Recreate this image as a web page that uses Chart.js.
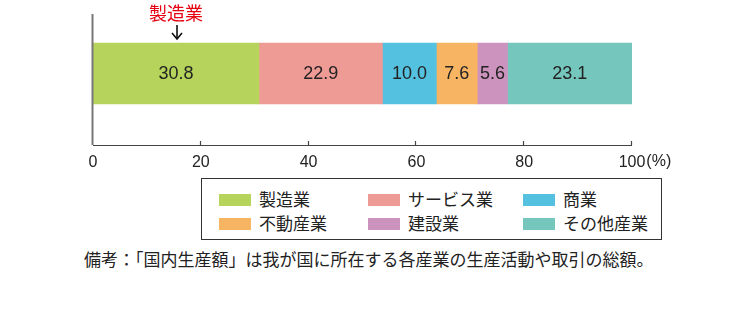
<!DOCTYPE html>
<html><head><meta charset="utf-8">
<script src="https://cdn.jsdelivr.net/npm/chart.js@4.4.1/dist/chart.umd.min.js"></script>
<style>
html,body{margin:0;padding:0;background:#fff;}
#wrap{position:relative;width:732px;height:324px;}
#c{position:absolute;left:0;top:0;}
#legend{position:absolute;left:201px;top:178px;width:459px;height:60px;border:1px solid #333;box-sizing:content-box;font-family:"Noto Sans CJK JP",sans-serif;font-size:17px;color:#222;}
.item{position:absolute;height:20px;line-height:20px;white-space:nowrap;}
.sw{position:absolute;left:0;top:4px;width:32px;height:12px;}
.lt{position:absolute;left:40px;top:-1px;}
#note{position:absolute;left:84px;top:247px;font-family:"Noto Sans CJK JP",sans-serif;font-size:17px;color:#222;white-space:nowrap;line-height:24px;}
</style></head>
<body><div id="wrap"><canvas id="c" width="732" height="175"></canvas><div id="legend"></div><div id="note"></div></div>
<script>
const categories = [''];
const seriesNames = ['製造業','サービス業','商業','不動産業','建設業','その他産業'];
const seriesValues = [30.8, 22.9, 10.0, 7.6, 5.6, 23.1];
const seriesColors = ['#B6D45C','#EF9B95','#55C1E1','#F7B564','#CD93BF','#75C6BC'];
const tickValues = [0,20,40,60,80,100];
const annotationText = '製造業';
const noteText = '備考：「国内生産額」は我が国に所在する各産業の生産活動や取引の総額。';

const datasets = seriesNames.map((n,i)=>({label:n,data:[seriesValues[i]],backgroundColor:seriesColors[i],borderWidth:0,barThickness:61}));

const custom = {
  id:'custom',
  afterDatasetsDraw(chart){
    const ctx = chart.ctx, xs = chart.scales.x, ca = chart.chartArea;
    ctx.save();
    // value labels
    ctx.font = '18px "Liberation Sans", Arial, sans-serif';
    ctx.fillStyle = '#222'; ctx.textAlign='center'; ctx.textBaseline='middle';
    chart.data.datasets.forEach((ds,i)=>{
      const el = chart.getDatasetMeta(i).data[0];
      const p = el.getProps(['x','y','base'],true);
      ctx.fillText(ds.data[0].toFixed(1), (p.x+p.base)/2, p.y+1);
    });
    // y axis line
    ctx.strokeStyle='#777'; ctx.lineWidth=2;
    ctx.beginPath(); ctx.moveTo(ca.left-0.5, 14); ctx.lineTo(ca.left-0.5, ca.bottom); ctx.stroke();
    // x axis line and inward ticks
    ctx.strokeStyle='#444'; ctx.lineWidth=1.2;
    ctx.beginPath(); ctx.moveTo(ca.left, ca.bottom+0.5); ctx.lineTo(ca.right, ca.bottom+0.5); ctx.stroke();
    tickValues.forEach(v=>{ if(v===0) return; const x=Math.round(xs.getPixelForValue(v))-0.5; ctx.beginPath(); ctx.moveTo(x, ca.bottom-4); ctx.lineTo(x, ca.bottom); ctx.stroke(); });
    // (%) unit
    ctx.font = '16px "Liberation Sans", Arial, sans-serif';
    ctx.fillStyle='#222'; ctx.textAlign='left'; ctx.textBaseline='middle';
    const last = tickValues[tickValues.length-1];
    const w = ctx.measureText(String(last)).width;
    ctx.fillText('(%)', xs.getPixelForValue(last)+w/2+1, 162);
    // annotation
    const ax = xs.getPixelForValue(seriesValues[0]/2);
    ctx.font = '18px "Noto Sans CJK JP", sans-serif';
    ctx.fillStyle='#E60012'; ctx.textAlign='center'; ctx.textBaseline='middle';
    ctx.fillText(annotationText, ax, 13);
    ctx.strokeStyle='#111'; ctx.lineWidth=1.6;
    ctx.beginPath(); ctx.moveTo(ax+1, 25); ctx.lineTo(ax+1, 39); ctx.stroke();
    ctx.beginPath(); ctx.moveTo(ax-4, 33); ctx.lineTo(ax+1, 39); ctx.lineTo(ax+6, 33); ctx.stroke();
    ctx.restore();
  }
};

new Chart(document.getElementById('c'), {
  type:'bar',
  data:{labels:categories, datasets},
  options:{
    responsive:false, animation:false, indexAxis:'y',
    layout:{padding:{left:93,right:100,top:2,bottom:0}},
    plugins:{legend:{display:false},tooltip:{enabled:false}},
    scales:{
      x:{stacked:true,min:0,max:100,
        afterBuildTicks(s){s.ticks=tickValues.map(v=>({value:v}));},
        afterFit(s){s.height=30;},
        grid:{display:false,drawTicks:false},border:{display:false},
        ticks:{padding:8,color:'#222',font:{family:'"Liberation Sans", Arial, sans-serif',size:16},maxRotation:0,autoSkip:false}},
      y:{stacked:true,display:false}
    }
  },
  plugins:[custom]
});

const lg = document.getElementById('legend');
const colX = [17,166,321], rowY = [11,35];
seriesNames.forEach((n,i)=>{
  const d=document.createElement('div'); d.className='item';
  d.style.left=colX[i%3]+'px'; d.style.top=rowY[Math.floor(i/3)]+'px';
  d.innerHTML='<span class="sw" style="background:'+seriesColors[i]+'"></span><span class="lt"></span>';
  d.querySelector('.lt').textContent=n;
  lg.appendChild(d);
});
document.getElementById('note').textContent=noteText;
</script></body></html>
